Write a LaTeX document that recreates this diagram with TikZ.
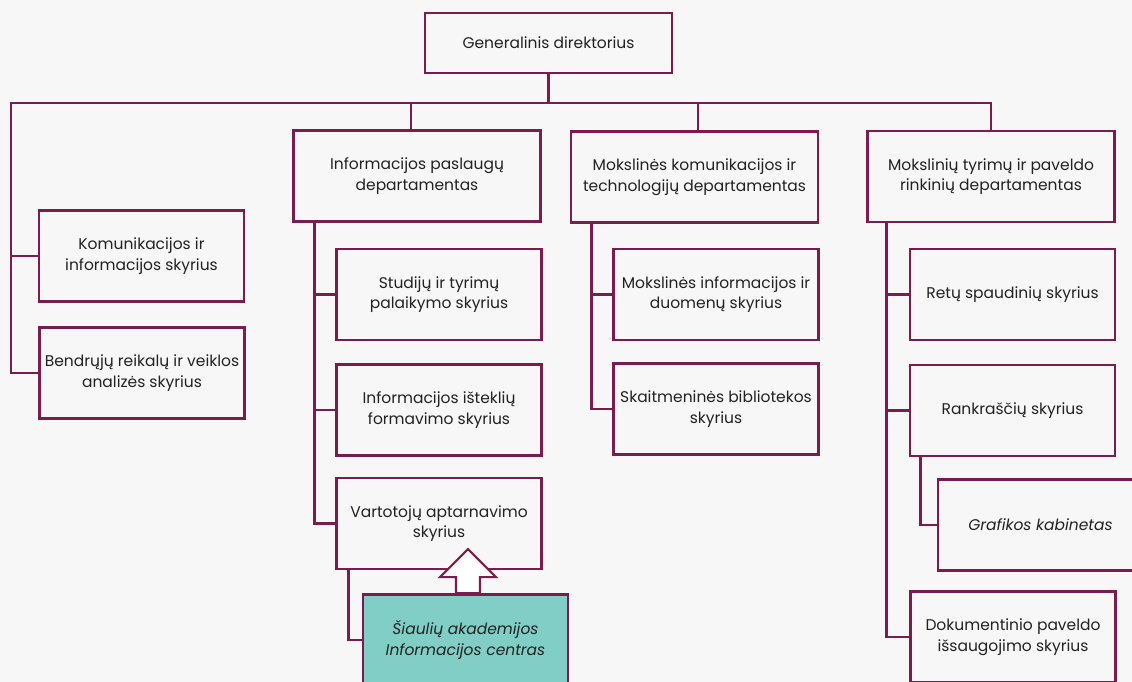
\documentclass[tikz,border=0pt]{standalone}
\usepackage{fontspec}
\setmainfont{Poppins}
\usepackage{tikz}
\usetikzlibrary{positioning, calc}
\definecolor{plum}{HTML}{7A1D4C}
\definecolor{paper}{HTML}{F7F7F7}
\definecolor{inkgray}{HTML}{222222}
\definecolor{lagoon}{HTML}{80CEC5}
\tikzset{
  unit/.style={rectangle, draw=plum, line width=2.8pt, fill=paper, text=inkgray,
    font=\fontsize{15.5}{20.5}\selectfont, align=center, inner sep=2pt},
  unit/top/.style={unit, minimum width=247pt, minimum height=60pt},
  unit/dept/.style={unit, minimum width=247pt, minimum height=91pt},
  unit/sub/.style={unit, minimum width=205pt, minimum height=91pt},
  unit/centre/.style={unit/sub, fill=lagoon, font=\fontsize{15.5}{20.5}\selectfont\itshape},
  link/.style={draw=plum, line width=2.8pt},
  uparrow/.style={draw=plum, line width=2.2pt, fill=white, line join=miter},
}
\begin{document}
\begin{tikzpicture}[x=1pt, y=-1pt]
\fill[paper] (0,0) rectangle (1132,682);
\clip (0,0) rectangle (1132,682);

\node[unit/top]  (GD)  at (548.5,43)  {Generalinis direktorius};

\node[unit/dept] (ISD) at (417,176)   {Informacijos paslaugų\\departamentas};
\node[unit/dept] (MKT) at (694.5,177) {Mokslinės komunikacijos ir\\technologijų departamentas};
\node[unit/dept] (MTP) at (991,176.5) {Mokslinių tyrimų ir paveldo\\rinkinių departamentas};

\node[unit/sub] (KIS) at (141.5,256)  {Komunikacijos ir\\informacijos skyrius};
\node[unit/sub] (BRV) at (142,373)    {Bendrųjų reikalų ir veiklos\\analizės skyrius};

\node[unit/sub] (STP) at (439,294.5)  {Studijų ir tyrimų\\palaikymo skyrius};
\node[unit/sub] (IIF) at (439,410)    {Informacijos išteklių\\formavimo skyrius};
\node[unit/sub] (VAS) at (439,523.5)  {Vartotojų aptarnavimo\\skyrius};
\node[unit/centre] (SAI) at (465.5,640) {Šiaulių akademijos\\Informacijos centras};

\node[unit/sub] (MID) at (716,294.5)  {Mokslinės informacijos ir\\duomenų skyrius};
\node[unit/sub] (SBS) at (716,409)    {Skaitmeninės bibliotekos\\skyrius};

\node[unit/sub] (RSS) at (1012.5,294.5) {Retų spaudinių skyrius};
\node[unit/sub] (RKS) at (1012.5,410.5) {Rankraščių skyrius};
\node[unit/sub, font=\fontsize{15.5}{20.5}\selectfont\itshape] (GK) at (1040.5,525) {Grafikos kabinetas};
\node[unit/sub] (DPI) at (1013,637)     {Dokumentinio paveldo\\išsaugojimo skyrius};

% main bus
\coordinate (busL) at (11,103);
\coordinate (busR) at (991,103);
\draw[link] (GD.south) -- (GD.south |- busL);
\draw[link] (BRV.west) -| (busL) -- (busR) -- (MTP.north);
\draw[link] (KIS.west) -- (KIS.west -| busL);
\draw[link] ([xshift=-6pt]ISD.north) -- ([xshift=-6pt]ISD.north |- busL);
\draw[link] ([xshift=3.5pt]MKT.north) -- ([xshift=3.5pt]MKT.north |- busL);

% department trunks
\coordinate (isdT) at ([xshift=22pt]ISD.south west);
\draw[link] (isdT) |- (VAS.west);
\draw[link] (STP.west) -- (STP.west -| isdT);
\draw[link] (IIF.west) -- (IIF.west -| isdT);

\coordinate (mktT) at ([xshift=22pt]MKT.south west);
\draw[link] (mktT) |- (SBS.west);
\draw[link] (MID.west) -- (MID.west -| mktT);

\coordinate (mtpT) at ([xshift=20pt]MTP.south west);
\draw[link] (mtpT) |- (DPI.west);
\draw[link] (RSS.west) -- (RSS.west -| mtpT);
\draw[link] (RKS.west) -- (RKS.west -| mtpT);

\coordinate (rksT) at ([xshift=12pt]RKS.south west);
\draw[link] (rksT) |- (GK.west);

\coordinate (vasT) at ([xshift=13pt]VAS.south west);
\draw[link] (vasT) |- (SAI.west);

% block arrow up to Vartotoju
\draw[uparrow] ([xshift=-9.5pt]SAI.north) -- ++(0,-16) -- ++(-16,0) -- ++(28,-28)
  -- ++(28,28) -- ++(-16,0) -- ++(0,16) -- cycle;

\end{tikzpicture}
\end{document}
